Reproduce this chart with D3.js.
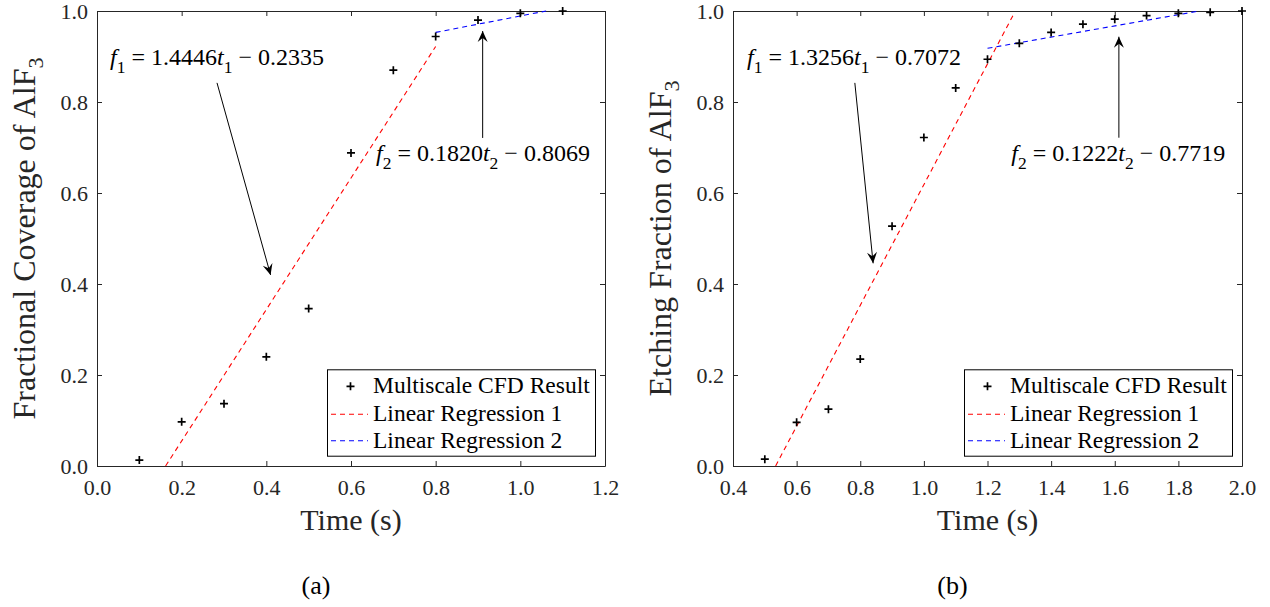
<!DOCTYPE html>
<html><head><meta charset="utf-8">
<script src="https://cdn.jsdelivr.net/npm/d3@7"></script>
<style>
body{margin:0;background:#fff}
text{font-family:"Liberation Serif","Times New Roman",serif}
</style>
</head><body>
<svg id="c" width="1270" height="607"></svg>
<script>
// ---------- data (a) ----------
const timeA = [0.1,0.2,0.3,0.4,0.5,0.6,0.7,0.8,0.9,1.0,1.1];
const fracA = [0.013,0.097,0.137,0.240,0.346,0.688,0.870,0.944,0.980,0.995,1.000];
const reg1A = [[0.162,0.0],[0.8,0.922]];
const reg2A = [[0.8,0.953],[1.061,1.0]];
const xTicksA = [0,0.2,0.4,0.6,0.8,1.0,1.2];
// ---------- data (b) ----------
const timeB = [0.5,0.6,0.7,0.8,0.9,1.0,1.1,1.2,1.3,1.4,1.5,1.6,1.7,1.8,1.9,2.0];
const fracB = [0.015,0.096,0.125,0.235,0.527,0.722,0.831,0.894,0.929,0.953,0.971,0.982,0.990,0.995,0.997,1.000];
const reg1B = [[0.534,0.0],[1.28,0.99]];
const reg2B = [[1.2,0.918],[1.866,1.0]];
const xTicksB = [0.4,0.6,0.8,1.0,1.2,1.4,1.6,1.8,2.0];
const yTicks = [0,0.2,0.4,0.6,0.8,1.0];
const legendLabels = ["Multiscale CFD Result","Linear Regression 1","Linear Regression 2"];

// annotations (data coordinates)
const annA = {
  eq1:{x:0.031,y:0.881,parts:[["f","i"],["1","s"],[" = 1.4446",""],["t","i"],["1","s"],[" \u2212 0.2335",""]]},
  arr1:[[0.2835,0.842],[0.410,0.420]],
  eq2:{x:0.659,y:0.670,parts:[["f","i"],["2","s"],[" = 0.1820",""],["t","i"],["2","s"],[" \u2212 0.8069",""]]},
  arr2:[[0.911,0.721],[0.911,0.956]]
};
const annB = {
  eq1:{x:0.444,y:0.881,parts:[["f","i"],["1","s"],[" = 1.3256",""],["t","i"],["1","s"],[" \u2212 0.7072",""]]},
  arr1:[[0.783,0.842],[0.8405,0.4455]],
  eq2:{x:1.275,y:0.670,parts:[["f","i"],["2","s"],[" = 0.1222",""],["t","i"],["2","s"],[" \u2212 0.7719",""]]},
  arr2:[[1.613,0.7215],[1.613,0.9435]]
};

const svg = d3.select("#c");
svg.append("rect").attr("width",1270).attr("height",607).attr("fill","#fff");
const AX = "#262626";

function panel(o){
  const x = d3.scaleLinear().domain(o.xDomain).range([o.left,o.right]);
  const y = d3.scaleLinear().domain([0,1]).range([466,11]);
  const g = svg.append("g");

  // axes
  const fmt = d3.format(".1f");
  const gb = g.append("g").attr("transform","translate(0,466)")
    .call(d3.axisBottom(x).tickValues(o.xTicks).tickFormat(fmt).tickSize(-5).tickSizeOuter(0).tickPadding(13));
  const gt = g.append("g").attr("transform","translate(0,11)")
    .call(d3.axisTop(x).tickValues(o.xTicks).tickFormat("").tickSize(-5).tickSizeOuter(0));
  const gl = g.append("g").attr("transform",`translate(${o.left},0)`)
    .call(d3.axisLeft(y).tickValues(yTicks).tickFormat(fmt).tickSize(-5).tickSizeOuter(0).tickPadding(9));
  const gr = g.append("g").attr("transform",`translate(${o.right},0)`)
    .call(d3.axisRight(y).tickValues(yTicks).tickFormat("").tickSize(-5).tickSizeOuter(0));
  [gb,gt,gl,gr].forEach(a=>{
    a.selectAll("path,line").attr("stroke",AX).attr("stroke-width",1);
    a.selectAll("text").attr("fill",AX).style("font-size","22px").style("font-family",'"Liberation Serif",serif');
  });

  // labels
  g.append("text").attr("x",(o.left+o.right)/2).attr("y",530).attr("text-anchor","middle")
    .attr("fill",AX).style("font-size","30px").text("Time (s)");
  const yl = g.append("text").attr("transform",`translate(${o.left-62},238.5) rotate(-90)`)
    .attr("text-anchor","middle").attr("fill",AX).style("font-size","32px");
  yl.append("tspan").text(o.yLabel);
  yl.append("tspan").attr("dy",8).style("font-size","22px").text("3");
  g.append("text").attr("x",(o.left+o.right)/2-35).attr("y",594).attr("text-anchor","middle")
    .attr("fill","#000").style("font-size","26px").text(o.caption);

  // regression lines
  const line = d3.line().x(d=>x(d[0])).y(d=>y(d[1]));
  g.append("path").attr("d",line(o.reg1)).attr("fill","none").attr("stroke","#ff0000")
    .attr("stroke-width",1.1).attr("stroke-dasharray","5,4");
  g.append("path").attr("d",line(o.reg2)).attr("fill","none").attr("stroke","#0000ff")
    .attr("stroke-width",1.1).attr("stroke-dasharray","5,4");

  // markers
  const plus = "M-4,0H4M0,-4V4";
  g.selectAll("path.pt").data(o.t.map((t,i)=>[t,o.f[i]])).enter().append("path")
    .attr("class","pt").attr("transform",d=>`translate(${x(d[0])},${y(d[1])})`)
    .attr("d",plus).attr("stroke","#000").attr("stroke-width",1.7).attr("fill","none");

  // annotations
  function eq(e){
    const t = g.append("text").attr("x",x(e.x)).attr("y",y(e.y)).attr("fill","#000").style("font-size","24px");
    e.parts.forEach((p,i)=>{
      const s = t.append("tspan").text(p[0]);
      if(p[1]==="i") s.style("font-style","italic");
      if(p[1]==="s") s.attr("dy",8).style("font-size","17.5px");
      else if(i>0 && e.parts[i-1][1]==="s") s.attr("dy",-8);
    });
  }
  function arrow(a){
    const x1=x(a[0][0]), y1=y(a[0][1]), x2=x(a[1][0]), y2=y(a[1][1]);
    const ang = Math.atan2(y2-y1,x2-x1)*180/Math.PI;
    g.append("line").attr("x1",x1).attr("y1",y1).attr("x2",x2).attr("y2",y2)
      .attr("stroke","#000").attr("stroke-width",1);
    g.append("path").attr("transform",`translate(${x2},${y2}) rotate(${ang})`)
      .attr("d","M0,0L-11,-5L-7,0L-11,5Z").attr("fill","#000");
  }
  eq(o.ann.eq1); eq(o.ann.eq2); arrow(o.ann.arr1); arrow(o.ann.arr2);

  // legend
  const lw=268, lh=86.4;
  const lx = o.right-10-lw, ly = 466-10.3-lh;
  const lg = g.append("g").attr("transform",`translate(${lx},${ly})`);
  lg.append("rect").attr("x",0.5).attr("y",0.5).attr("width",lw).attr("height",lh)
    .attr("fill","#fff").attr("stroke","#000").attr("stroke-width",1);
  const rows=[24,52,78.5];
  lg.append("path").attr("transform",`translate(23.5,${rows[0]-7})`).attr("d",plus)
    .attr("stroke","#000").attr("stroke-width",1.7);
  lg.append("line").attr("x1",4).attr("x2",41).attr("y1",rows[1]-7).attr("y2",rows[1]-7)
    .attr("stroke","#ff0000").attr("stroke-width",1.1).attr("stroke-dasharray","5,4");
  lg.append("line").attr("x1",4).attr("x2",41).attr("y1",rows[2]-7).attr("y2",rows[2]-7)
    .attr("stroke","#0000ff").attr("stroke-width",1.1).attr("stroke-dasharray","5,4");
  legendLabels.forEach((s,i)=>{
    lg.append("text").attr("x",46).attr("y",rows[i]).attr("fill","#000").style("font-size","23.5px").text(s);
  });
}

panel({left:97,right:605,xDomain:[0,1.2],xTicks:xTicksA,t:timeA,f:fracA,reg1:reg1A,reg2:reg2A,
  ann:annA,yLabel:"Fractional Coverage of AlF",caption:"(a)"});
panel({left:733,right:1242,xDomain:[0.4,2.0],xTicks:xTicksB,t:timeB,f:fracB,reg1:reg1B,reg2:reg2B,
  ann:annB,yLabel:"Etching Fraction of AlF",caption:"(b)"});
</script>
</body></html>
